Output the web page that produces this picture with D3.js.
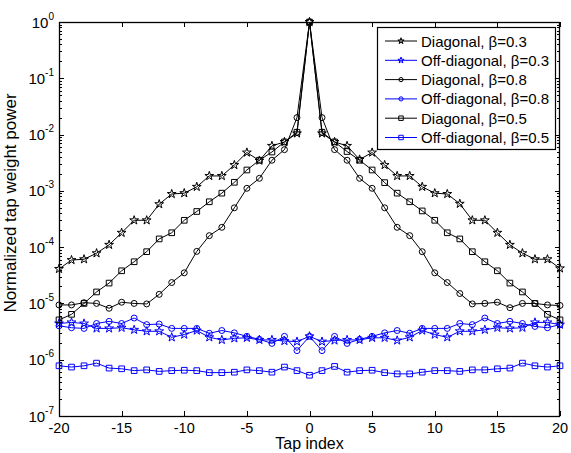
<!DOCTYPE html>
<html>
<head>
<meta charset="utf-8">
<script src="https://cdn.jsdelivr.net/npm/d3@7"></script>
<style>
	body { margin: 0; background: #fff; }
	text { font-family: "Liberation Sans", Arial, Helvetica, sans-serif; fill: #000; }
	.line { fill: none; stroke-width: 1; }
	.mark { fill: none; stroke-width: 1; }
</style>
</head>
<body>
<script>
// tap indices -20..20
var taps = d3.range(-20, 21);

var diag03 = [4.1e-5, 5.9e-5, 6.1e-5, 7.8e-5, 1.1e-4, 1.8e-4, 3.0e-4, 3.0e-4, 5.8e-4, 8.8e-4, 9.1e-4,
	1.18e-3, 1.84e-3, 1.84e-3, 2.88e-3, 4.8e-3, 3.45e-3, 6.3e-3, 7.4e-3, 1.05e-2, 1,
	1.05e-2, 7.4e-3, 6.3e-3, 3.6e-3, 4.8e-3, 2.88e-3, 1.84e-3, 1.84e-3, 1.18e-3, 9.1e-4,
	8.8e-4, 5.9e-4, 3.0e-4, 3.0e-4, 1.8e-4, 1.1e-4, 7.8e-5, 6.1e-5, 6.1e-5, 4.2e-5];
var off03 = [4.4e-6, 4.6e-6, 4.4e-6, 3.6e-6, 3.6e-6, 3.7e-6, 3.4e-6, 3.2e-6, 3.2e-6, 2.5e-6, 2.8e-6,
	3.3e-6, 2.5e-6, 2.25e-6, 2.4e-6, 2.45e-6, 2.25e-6, 2.25e-6, 2.15e-6, 2.1e-6, 2.6e-6,
	2.1e-6, 2.2e-6, 2.25e-6, 2.25e-6, 2.45e-6, 2.45e-6, 2.2e-6, 2.5e-6, 3.3e-6, 2.8e-6,
	2.5e-6, 3.2e-6, 3.2e-6, 3.4e-6, 3.7e-6, 3.6e-6, 3.7e-6, 4.6e-6, 4.6e-6, 4.2e-6];
var diag08 = [9.4e-6, 9.4e-6, 1.03e-5, 1.0e-5, 8.2e-6, 1.05e-5, 1.0e-5, 9.8e-6, 1.45e-5, 2.35e-5, 3.5e-5,
	8.4e-5, 1.6e-4, 2.25e-4, 5.0e-4, 1.11e-3, 1.67e-3, 3.5e-3, 5.4e-3, 2.0e-2, 1,
	2.0e-2, 5.4e-3, 3.5e-3, 1.67e-3, 1.11e-3, 5.0e-4, 2.25e-4, 1.6e-4, 8.3e-5, 3.5e-5,
	2.35e-5, 1.5e-5, 9.8e-6, 1.0e-5, 1.05e-5, 8.4e-6, 1.0e-5, 1.0e-5, 9.4e-6, 9.2e-6];
var off08 = [4.0e-6, 3.7e-6, 3.6e-6, 4.4e-6, 4.8e-6, 4.4e-6, 5.5e-6, 4.2e-6, 4.3e-6, 3.6e-6, 3.6e-6,
	3.6e-6, 2.95e-6, 3.3e-6, 3.0e-6, 2.6e-6, 2.3e-6, 1.95e-6, 2.6e-6, 1.45e-6, 2.6e-6,
	1.45e-6, 2.6e-6, 1.95e-6, 2.3e-6, 2.6e-6, 3.0e-6, 3.3e-6, 2.95e-6, 3.6e-6, 3.6e-6,
	3.6e-6, 4.4e-6, 4.2e-6, 5.5e-6, 4.4e-6, 4.8e-6, 4.4e-6, 3.9e-6, 3.7e-6, 4.2e-6];
var diag05 = [5.1e-6, 6.4e-6, 1.0e-5, 1.6e-5, 2.3e-5, 3.8e-5, 5.5e-5, 8.3e-5, 1.4e-4, 1.8e-4, 3.0e-4,
	4.3e-4, 6.4e-4, 9.1e-4, 1.42e-3, 2.35e-3, 3.5e-3, 4.9e-3, 7.4e-3, 1.1e-2, 1,
	1.1e-2, 7.4e-3, 5.0e-3, 3.5e-3, 2.35e-3, 1.4e-3, 9.1e-4, 6.4e-4, 4.4e-4, 3.0e-4,
	1.8e-4, 1.4e-4, 8.3e-5, 5.5e-5, 3.8e-5, 2.3e-5, 1.6e-5, 1.0e-5, 6.4e-6, 5.1e-6];
var off05 = [7.8e-7, 7.4e-7, 7.8e-7, 8.7e-7, 7.1e-7, 6.9e-7, 6.4e-7, 6.6e-7, 6.2e-7, 6.4e-7, 6.5e-7,
	6.4e-7, 5.9e-7, 5.9e-7, 6.0e-7, 6.6e-7, 6.4e-7, 6.0e-7, 7.4e-7, 6.4e-7, 5.3e-7,
	6.4e-7, 7.6e-7, 6.0e-7, 6.4e-7, 6.5e-7, 5.9e-7, 5.6e-7, 5.6e-7, 6.0e-7, 6.4e-7,
	6.4e-7, 6.2e-7, 6.6e-7, 6.6e-7, 6.9e-7, 7.1e-7, 8.7e-7, 7.8e-7, 7.4e-7, 7.8e-7];

var seriesNames = ['Diagonal, \u03b2=0.3', 'Off-diagonal, \u03b2=0.3', 'Diagonal, \u03b2=0.8',
	'Off-diagonal, \u03b2=0.8', 'Diagonal, \u03b2=0.5', 'Off-diagonal, \u03b2=0.5'];
var seriesValues = [diag03, off03, diag08, off08, diag05, off05];
var seriesColors = ['#000', '#00f', '#000', '#00f', '#000', '#00f'];
var seriesMarks = ['star', 'star', 'circle', 'circle', 'square', 'square'];

var xTicks = [-20, -15, -10, -5, 0, 5, 10, 15, 20];
var yExps = [-7, -6, -5, -4, -3, -2, -1, 0];

var W = 571, H = 453;
var m = { left: 59, right: 11, top: 22, bottom: 37 };

var svg = d3.select('body').append('svg').attr('width', W).attr('height', H);

var x = d3.scaleLinear().domain([-20, 20]).range([m.left, W - m.right]);
var y = d3.scaleLog().domain([1e-7, 1]).range([H - m.bottom, m.top]);

var x0 = x.range()[0], x1 = x.range()[1], y0 = y.range()[0], y1 = y.range()[1];

var sym = {
	star: d3.symbol().type(d3.symbolStar).size(24),
	circle: d3.symbol().type(d3.symbolCircle).size(28),
	square: d3.symbol().type(d3.symbolSquare).size(32)
};
var symLegend = {
	star: d3.symbol().type(d3.symbolStar).size(12),
	circle: d3.symbol().type(d3.symbolCircle).size(14),
	square: d3.symbol().type(d3.symbolSquare).size(20)
};

// ticks
var axisG = svg.append('g').attr('stroke', '#000').attr('stroke-width', 1);
xTicks.forEach(function (t) {
	var px = Math.round(x(t)) + 0.5;
	axisG.append('line').attr('x1', px).attr('x2', px).attr('y1', y0).attr('y2', y0 - 5);
	axisG.append('line').attr('x1', px).attr('x2', px).attr('y1', y1).attr('y2', y1 + 5);
});
yExps.forEach(function (e) {
	var py = Math.round(y(Math.pow(10, e))) + 0.5;
	axisG.append('line').attr('x1', x0).attr('x2', x0 + 5).attr('y1', py).attr('y2', py);
	axisG.append('line').attr('x1', x1).attr('x2', x1 - 5).attr('y1', py).attr('y2', py);
	if (e < 0) {
		for (var k = 2; k <= 9; k++) {
			var my = Math.round(y(k * Math.pow(10, e))) + 0.5;
			axisG.append('line').attr('x1', x0).attr('x2', x0 + 3).attr('y1', my).attr('y2', my);
			axisG.append('line').attr('x1', x1).attr('x2', x1 - 3).attr('y1', my).attr('y2', my);
		}
	}
});

// data lines and markers
var line = d3.line().x(function (d, i) { return x(taps[i]); }).y(function (d) { return y(d); });
seriesValues.forEach(function (vals, s) {
	var g = svg.append('g');
	g.append('path').attr('class', 'line').attr('d', line(vals)).attr('stroke', seriesColors[s]);
	g.selectAll('.mark').data(vals).enter().append('path').attr('class', 'mark')
		.attr('d', sym[seriesMarks[s]]())
		.attr('stroke', seriesColors[s])
		.attr('transform', function (d, i) { return 'translate(' + x(taps[i]) + ',' + y(d) + ')'; });
});

// frame
svg.append('rect').attr('x', x0 + 0.5).attr('y', y1 + 0.5).attr('width', x1 - x0 - 1).attr('height', y0 - y1)
	.attr('fill', 'none').attr('stroke', '#000').attr('stroke-width', 1.3);

// tick labels
xTicks.forEach(function (t) {
	svg.append('text').attr('x', x(t)).attr('y', y0 + 17).attr('text-anchor', 'middle')
		.style('font-size', '14.5px').text(t);
});
yExps.forEach(function (e) {
	var t = svg.append('text').attr('x', x0 - 5).attr('y', y(Math.pow(10, e)) + 5.5)
		.attr('text-anchor', 'end').style('font-size', '15px');
	t.append('tspan').text('10');
	t.append('tspan').attr('dy', -8).style('font-size', '10px').text(e);
});

svg.append('text').attr('x', (x0 + x1) / 2).attr('y', H - 4.5).attr('text-anchor', 'middle')
	.style('font-size', '16px').text('Tap index');
svg.append('text').attr('transform', 'translate(16,203) rotate(-90)')
	.attr('text-anchor', 'middle').style('font-size', '17px').text('Normalized tap weight power');

// legend
var lg = svg.append('g').attr('transform', 'translate(377,27)');
lg.append('rect').attr('x', 0.5).attr('y', 0.5).attr('width', 178).attr('height', 122)
	.attr('fill', '#fff').attr('stroke', '#000').attr('stroke-width', 1.2);
seriesNames.forEach(function (name, s) {
	var ly = 14 + s * 19.3;
	lg.append('line').attr('x1', 8).attr('x2', 40).attr('y1', ly).attr('y2', ly)
		.attr('stroke', seriesColors[s]).attr('stroke-width', 1);
	lg.append('path').attr('class', 'mark').attr('d', symLegend[seriesMarks[s]]())
		.attr('stroke', seriesColors[s]).attr('fill', seriesMarks[s] === 'star' ? seriesColors[s] : 'none')
		.attr('transform', 'translate(24,' + ly + ')');
	lg.append('text').attr('x', 44).attr('y', ly + 5.5).style('font-size', '15px').text(name);
});
</script>
</body>
</html>
